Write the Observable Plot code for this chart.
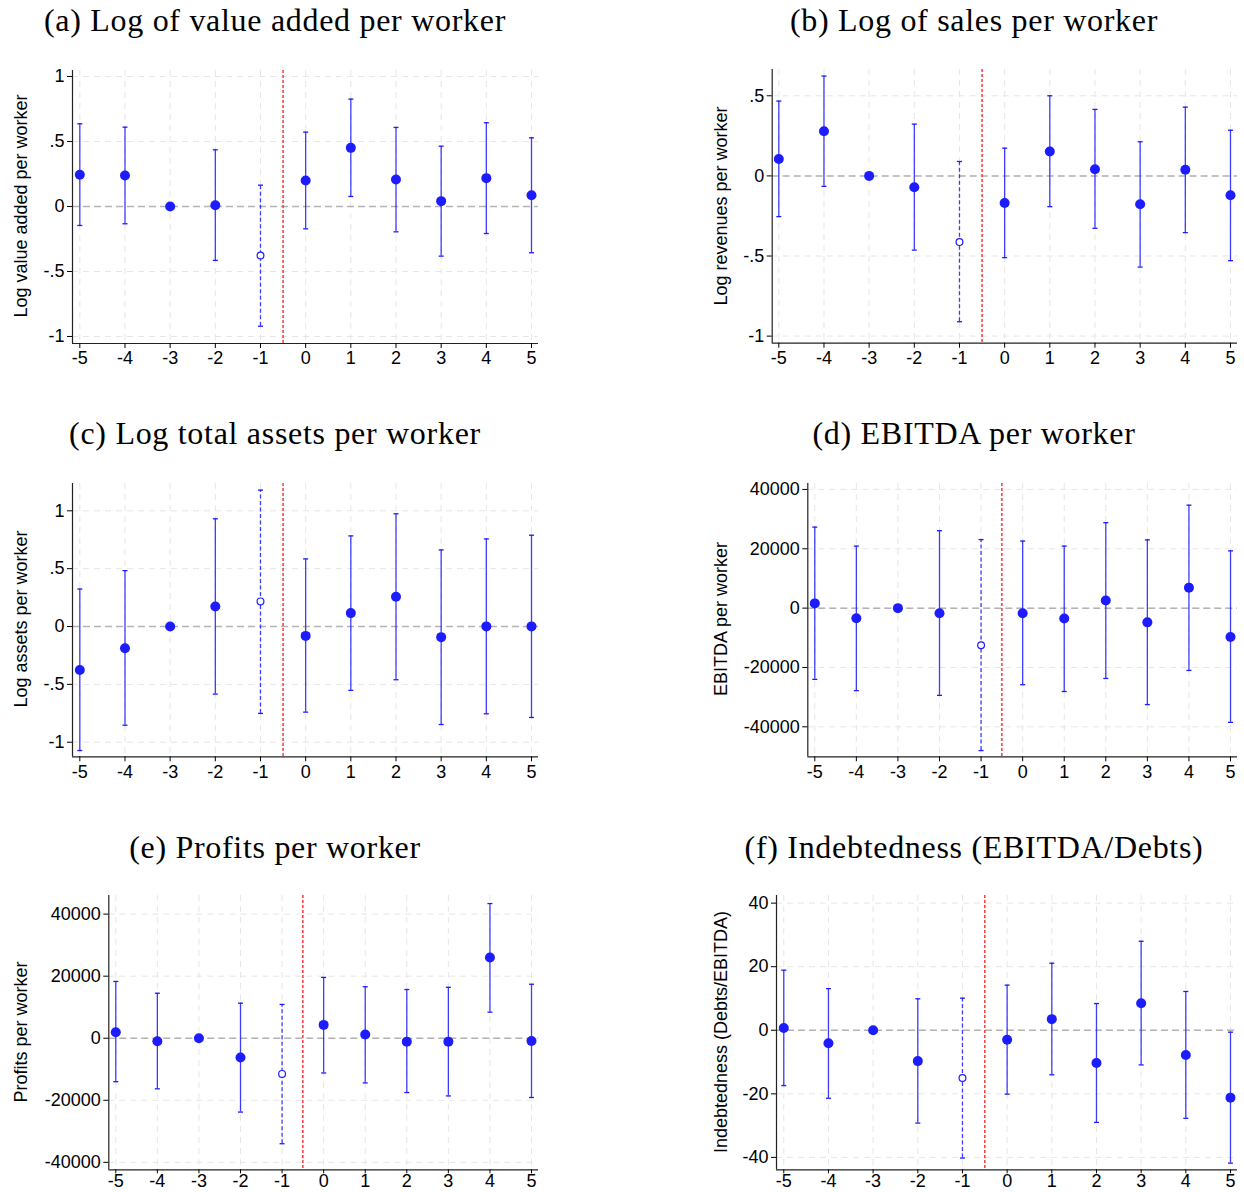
<!DOCTYPE html>
<html><head><meta charset="utf-8">
<script src="https://cdn.jsdelivr.net/npm/d3@7"></script>
<script src="https://cdn.jsdelivr.net/npm/@observablehq/plot@0.6"></script>
<style>
body{margin:0;background:#fff;}
#root{position:relative;width:1244px;height:1192px;overflow:hidden;background:#fff;}
.title{position:absolute;font-family:"Liberation Serif","Times New Roman",serif;font-size:32px;letter-spacing:0.7px;white-space:nowrap;transform:translate(-50%,-50%);line-height:1;color:#000;}
.ylab{position:absolute;font-family:"Liberation Sans",Arial,sans-serif;font-size:18px;white-space:nowrap;transform:translate(-50%,-50%) rotate(-90deg);line-height:1;color:#000;}
.panel{position:absolute;}
.panel svg{overflow:visible;}
</style></head><body><div id="root"></div>
<script>
// ---------- data ----------
const periods = [-5, -4, -3, -2, -1, 0, 1, 2, 3, 4, 5];
const hollowPeriod = -1;   // dashed CI, hollow marker
const eventLine = -0.5;    // red dashed vertical line

const titles = [
  "(a) Log of value added per worker",
  "(b) Log of sales per worker",
  "(c) Log total assets per worker",
  "(d) EBITDA per worker",
  "(e) Profits per worker",
  "(f) Indebtedness (EBITDA/Debts)"
];
const yLabels = [
  "Log value added per worker",
  "Log revenues per worker",
  "Log assets per worker",
  "EBITDA per worker",
  "Profits per worker",
  "Indebtedness (Debts/EBITDA)"
];

const logTicksA = [-1, -0.5, 0, 0.5, 1];
const logTicksB = [-1, -0.5, 0, 0.5];
const moneyTicks = [-40000, -20000, 0, 20000, 40000];
const debtTicks = [-40, -20, 0, 20, 40];

const vaCoef = [0.244, 0.238, 0, 0.010, -0.377, 0.200, 0.451, 0.208, 0.041, 0.218, 0.087];
const vaLo   = [-0.146, -0.133, null, -0.415, -0.921, -0.172, 0.077, -0.195, -0.382, -0.208, -0.356];
const vaHi   = [0.636, 0.610, null, 0.436, 0.164, 0.572, 0.826, 0.608, 0.464, 0.644, 0.528];

const salesCoef = [0.106, 0.279, 0, -0.071, -0.413, -0.169, 0.152, 0.042, -0.177, 0.038, -0.121];
const salesLo   = [-0.254, -0.065, null, -0.463, -0.910, -0.510, -0.192, -0.327, -0.569, -0.354, -0.529];
const salesHi   = [0.467, 0.623, null, 0.323, 0.090, 0.173, 0.500, 0.415, 0.213, 0.429, 0.285];

const assetsCoef = [-0.376, -0.188, 0, 0.173, 0.217, -0.081, 0.116, 0.257, -0.092, 0.001, 0.001];
const assetsLo   = [-1.072, -0.853, null, -0.584, -0.751, -0.740, -0.552, -0.460, -0.847, -0.754, -0.786];
const assetsHi   = [0.324, 0.483, null, 0.931, 1.179, 0.584, 0.783, 0.974, 0.662, 0.757, 0.789];

const ebitdaCoef = [1600, -3400, 0, -1700, -12500, -1700, -3500, 2600, -4800, 6900, -9700];
const ebitdaLo   = [-24000, -27800, null, -29400, -48000, -25800, -28100, -23700, -32500, -21000, -38500];
const ebitdaHi   = [27300, 20900, null, 26100, 23100, 22600, 20900, 28800, 23000, 34700, 19300];

const profitCoef = [1900, -1000, 0, -6200, -11500, 4300, 1200, -1100, -1100, 26000, -900];
const profitLo   = [-14000, -16300, null, -23800, -34000, -11200, -14400, -17500, -18600, 8400, -19100];
const profitHi   = [18300, 14500, null, 11300, 10900, 19600, 16600, 15700, 16400, 43400, 17400];

const debtCoef = [0.7, -4.1, 0, -9.7, -15.0, -3.0, 3.5, -10.3, 8.5, -7.8, -21.2];
const debtLo   = [-17.4, -21.4, null, -29.2, -40.2, -20.1, -14.0, -29.0, -10.9, -27.7, -41.8];
const debtHi   = [18.9, 13.1, null, 9.9, 10.1, 14.2, 21.1, 8.4, 28.0, 12.2, -0.6];

const series = [
  [vaCoef, vaLo, vaHi],
  [salesCoef, salesLo, salesHi],
  [assetsCoef, assetsLo, assetsHi],
  [ebitdaCoef, ebitdaLo, ebitdaHi],
  [profitCoef, profitLo, profitHi],
  [debtCoef, debtLo, debtHi]
];
const yTicks = [logTicksA, logTicksB, logTicksA, moneyTicks, moneyTicks, debtTicks];
const yDomains = [[-1.054, 1.046], [-1.044, 0.664], [-1.126, 1.236], [-50100, 42000], [-42400, 46000], [-43.9, 42.4]];

// ---------- layout (page pixels) ----------
const layout = [
  {col: 0, frame: [72, 538, 70, 343],        xd: [-5.162, 5.155], title: [275, 20],  lab: [21, 206],  tickPad: 3},
  {col: 1, frame: [771.7, 1237, 69.3, 343],  xd: [-5.146, 5.155], title: [974, 20],  lab: [721, 206], tickPad: 3},
  {col: 0, frame: [72, 538, 482.7, 756],     xd: [-5.162, 5.155], title: [275, 433], lab: [21, 619],  tickPad: 3},
  {col: 1, frame: [807.3, 1237, 482.7, 756], xd: [-5.168, 5.168], title: [974, 433], lab: [721, 619], tickPad: 3},
  {col: 0, frame: [108.3, 538, 895, 1169.3], xd: [-5.168, 5.168], title: [275, 847], lab: [21, 1032], tickPad: 0},
  {col: 1, frame: [776, 1237, 895, 1169.3],  xd: [-5.163, 5.157], title: [974, 847], lab: [721, 1032], tickPad: 0}
];

const blue = "#1c1cff";
const fmt = v => v === 0 ? "0" : String(v).replace(/^(-?)0\./, "$1.");
const capSymbol = {draw(ctx) { ctx.moveTo(-2.5, 0); ctx.lineTo(2.5, 0); }};

const root = document.getElementById("root");

layout.forEach((L, k) => {
  const [coef, lo, hi] = series[k];
  const rows = periods.map((t, i) => ({t, b: coef[i], lo: lo[i], hi: hi[i]}));
  const withCI = rows.filter(d => d.lo != null);
  const solid = withCI.filter(d => d.t !== hollowPeriod);
  const dashed = withCI.filter(d => d.t === hollowPeriod);
  const filled = rows.filter(d => d.t !== hollowPeriod);
  const hollow = rows.filter(d => d.t === hollowPeriod);

  const svgLeft = L.col * 622, svgW = 622;
  const [fl, fr, ft, fb] = L.frame;
  const padTop = 14, padBottom = 36;
  const svgTop = ft - padTop;
  const svgH = (fb - ft) + padTop + padBottom;
  const yd = yDomains[k];

  const chart = Plot.plot({
    width: svgW, height: svgH,
    marginLeft: fl - svgLeft, marginRight: svgLeft + svgW - fr,
    marginTop: padTop, marginBottom: padBottom,
    x: {domain: L.xd},
    y: {domain: yd},
    style: {fontFamily: "'Liberation Sans', Arial, sans-serif", fontSize: "18px", color: "#000", background: "transparent"},
    marks: [
      Plot.gridX(periods, {stroke: "#e6e6e6", strokeOpacity: 1, strokeDasharray: "6,5"}),
      Plot.gridY(yTicks[k], {stroke: "#e6e6e6", strokeOpacity: 1, strokeDasharray: "6,5"}),
      Plot.ruleY([0], {stroke: "#b3b3b3", strokeWidth: 1.5, strokeDasharray: "7,4"}),
      Plot.ruleX([eventLine], {stroke: "#ff2a2a", strokeWidth: 1.4, strokeDasharray: "3,2"}),
      Plot.ruleX(solid, {x: "t", y1: "lo", y2: "hi", stroke: blue, strokeWidth: 1.3, strokeOpacity: 0.85}),
      Plot.ruleX(dashed, {x: "t", y1: "lo", y2: "hi", stroke: blue, strokeWidth: 1.3, strokeOpacity: 0.85, strokeDasharray: "4,2.5"}),
      Plot.dot(withCI, {x: "t", y: "lo", symbol: capSymbol, stroke: blue, strokeWidth: 1.3, fill: "none"}),
      Plot.dot(withCI, {x: "t", y: "hi", symbol: capSymbol, stroke: blue, strokeWidth: 1.3, fill: "none"}),
      Plot.dot(filled, {x: "t", y: "b", r: 5, fill: blue, stroke: "none"}),
      Plot.dot(hollow, {x: "t", y: "b", r: 3.4, fill: "#fff", stroke: blue, strokeWidth: 1.2}),
      Plot.ruleX([L.xd[0]], {stroke: "#222", strokeWidth: 1.2}),
      Plot.ruleY([yd[0]], {stroke: "#222", strokeWidth: 1.2}),
      Plot.axisX(periods, {tickFormat: fmt, tickSize: L.tickPad ? 5 : 4, tickPadding: L.tickPad, label: null, fontSize: 18}),
      Plot.axisY(yTicks[k], {tickFormat: fmt, tickSize: 5, tickPadding: 3, label: null, fontSize: 18})
    ]
  });

  const wrap = document.createElement("div");
  wrap.className = "panel";
  wrap.style.left = svgLeft + "px";
  wrap.style.top = svgTop + "px";
  wrap.appendChild(chart);
  root.appendChild(wrap);

  const t = document.createElement("div");
  t.className = "title";
  t.textContent = titles[k];
  t.style.left = L.title[0] + "px";
  t.style.top = L.title[1] + "px";
  root.appendChild(t);

  const yl = document.createElement("div");
  yl.className = "ylab";
  yl.textContent = yLabels[k];
  yl.style.left = L.lab[0] + "px";
  yl.style.top = L.lab[1] + "px";
  root.appendChild(yl);
});
</script>
</body></html>
